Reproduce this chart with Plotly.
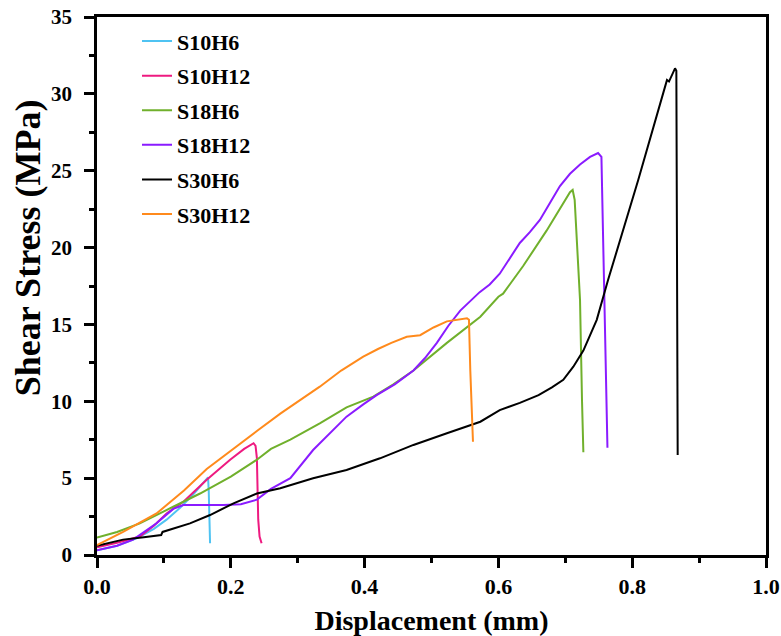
import plotly.graph_objects as go

# Displacement (mm) / Shear stress (MPa)
s10h6_x = [0.0, 0.03, 0.06, 0.085, 0.104, 0.125, 0.145, 0.166, 0.167, 0.168, 0.169]
s10h6_y = [0.3, 0.6, 1.1, 1.7, 2.3, 3.1, 4.0, 5.05, 4.2, 2.0, 0.76]

s10h12_x = [0.0, 0.03, 0.064, 0.085, 0.104, 0.13, 0.164, 0.199, 0.22, 0.234, 0.237, 0.239, 0.241, 0.243, 0.246]
s10h12_y = [0.5, 0.8, 1.2, 1.9, 2.7, 3.5, 4.9, 6.2, 6.9, 7.27, 7.1, 6.3, 2.3, 1.2, 0.76]

s18h6_x = [0.0, 0.03, 0.064, 0.09, 0.114, 0.154, 0.2, 0.239, 0.26, 0.289, 0.333, 0.373, 0.413, 0.443, 0.473,
           0.523, 0.573, 0.6, 0.607, 0.637, 0.672, 0.707, 0.711, 0.714, 0.722, 0.725, 0.727]
s18h6_y = [1.13, 1.5, 2.06, 2.6, 3.14, 4.0, 5.1, 6.2, 6.9, 7.5, 8.57, 9.6, 10.3, 11.1, 12.0,
           13.8, 15.5, 16.8, 17.0, 18.8, 21.1, 23.6, 23.75, 23.1, 16.6, 10.0, 6.68]

s18h12_x = [0.0, 0.03, 0.054, 0.089, 0.114, 0.129, 0.16, 0.189, 0.215, 0.239, 0.26, 0.289, 0.323,
            0.348, 0.373, 0.398, 0.418, 0.445, 0.473, 0.49, 0.508, 0.525, 0.543, 0.572, 0.587, 0.602,
            0.617, 0.632, 0.647, 0.662, 0.677, 0.692, 0.707, 0.722, 0.737, 0.749,
            0.754, 0.758, 0.761, 0.763]
s18h12_y = [0.3, 0.6, 1.0, 2.06, 3.0, 3.25, 3.25, 3.25, 3.3, 3.6, 4.3, 5.0, 6.83,
            7.9, 9.0, 9.8, 10.4, 11.1, 12.0, 12.8, 13.8, 14.9, 15.9, 17.1, 17.6, 18.3,
            19.3, 20.3, 21.0, 21.8, 22.9, 24.0, 24.8, 25.4, 25.9, 26.15,
            25.9, 16.6, 10.0, 6.98]

s30h6_x = [0.0, 0.039, 0.07, 0.096, 0.098, 0.139, 0.169, 0.204, 0.239, 0.274, 0.323, 0.373, 0.423,
           0.473, 0.523, 0.573, 0.602, 0.632, 0.66, 0.68, 0.697, 0.712, 0.727, 0.747, 0.764,
           0.809, 0.85, 0.852, 0.855, 0.864, 0.866, 0.867, 0.868]
s30h6_y = [0.6, 1.0, 1.15, 1.3, 1.5, 2.06, 2.6, 3.36, 4.0, 4.34, 4.99, 5.53, 6.29,
           7.16, 7.92, 8.67, 9.43, 9.9, 10.4, 10.9, 11.4, 12.25, 13.3, 15.3, 17.9,
           24.4, 30.6, 30.9, 30.8, 31.66, 31.5, 20.0, 6.5]

s30h12_x = [0.0, 0.039, 0.089, 0.13, 0.164, 0.2, 0.24, 0.274, 0.333, 0.365, 0.398, 0.42, 0.44, 0.463, 0.483,
            0.503, 0.523, 0.553, 0.556, 0.558, 0.56, 0.562]
s30h12_y = [0.65, 1.5, 2.7, 4.2, 5.6, 6.8, 8.1, 9.2, 10.95, 12.0, 12.9, 13.4, 13.8, 14.2, 14.3,
            14.8, 15.2, 15.4, 15.3, 12.0, 9.0, 7.37]

names = ["S10H6", "S10H12", "S18H6", "S18H12", "S30H6", "S30H12"]
xs = [s10h6_x, s10h12_x, s18h6_x, s18h12_x, s30h6_x, s30h12_x]
ys = [s10h6_y, s10h12_y, s18h6_y, s18h12_y, s30h6_y, s30h12_y]
colors = ["#4FC3F2", "#EE1A80", "#70B02C", "#8A1BFF", "#000000", "#FF8A1C"]

x_ticks = [0.0, 0.2, 0.4, 0.6, 0.8, 1.0]
x_ticklabels = ["0.0", "0.2", "0.4", "0.6", "0.8", "1.0"]
y_ticks = [0, 5, 10, 15, 20, 25, 30, 35]
x_title = "Displacement (mm)"
y_title = "Shear Stress (MPa)"

FONT = "Liberation Serif"

fig = go.Figure()
for n, x, y, c in zip(names, xs, ys, colors):
    fig.add_trace(go.Scatter(x=x, y=y, mode="lines", name=n, legendgroup=n,
                             line=dict(color=c, width=2)))

axis_common = dict(
    showline=True, linecolor="black", linewidth=2.5, mirror=True,
    ticks="outside", ticklen=10, tickwidth=2.5, tickcolor="black",
    showgrid=False, zeroline=False, automargin=False,
)

fig.update_xaxes(range=[0, 1.0], tickvals=x_ticks, ticktext=x_ticklabels,
                 ticklabelstandoff=0,
                 tickfont=dict(family=FONT, size=22, color="black", weight="bold"),
                 minor=dict(dtick=0.1, ticks="outside", ticklen=5, tickwidth=2.5, tickcolor="black"),
                 title=dict(text=x_title, standoff=14,
                            font=dict(family=FONT, size=28, color="black", weight="bold")),
                 **axis_common)
fig.update_yaxes(range=[0, 35], tickvals=y_ticks,
                 ticklabelstandoff=8,
                 tickfont=dict(family=FONT, size=21, color="black", weight="bold"),
                 minor=dict(dtick=2.5, ticks="outside", ticklen=5, tickwidth=2.5, tickcolor="black"),
                 **axis_common)

# y-axis title (placed slightly above the axis centre, as in the reference)
fig.add_annotation(text=y_title, xref="paper", yref="paper", x=-0.104, y=0.571,
                   xanchor="center", yanchor="middle", textangle=-90, showarrow=False,
                   font=dict(family=FONT, size=36, color="black", weight="bold"))

fig.update_layout(
    width=781, height=636,
    margin=dict(l=97, r=15, t=17, b=81),
    plot_bgcolor="white", paper_bgcolor="white",
    legend=dict(x=0.0598, y=0.994, xanchor="left", yanchor="top",
                bgcolor="rgba(0,0,0,0)", traceorder="grouped", tracegroupgap=3,
                font=dict(family=FONT, size=22, color="black", weight="bold")),
)

fig.write_html("out.html", config={"displayModeBar": False},
               post_script="document.body.style.margin='0';")
